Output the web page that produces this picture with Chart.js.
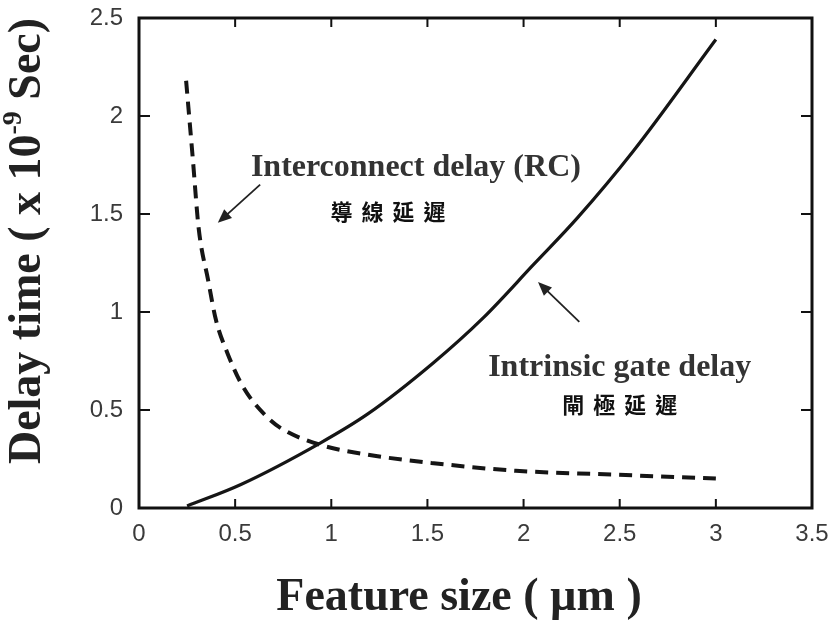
<!DOCTYPE html>
<html>
<head>
<meta charset="utf-8">
<script src="https://cdn.jsdelivr.net/npm/chart.js@4.4.1/dist/chart.umd.min.js"></script>
<style>
  html, body { margin: 0; padding: 0; background: #fff; }
  #wrap { width: 836px; height: 620px; position: relative; }
</style>
</head>
<body>
<div id="wrap"><canvas id="delayChart"></canvas></div>
<script>
// feature size (um) vs delay time (x 1e-9 s)
var gateX = [0.25, 0.53, 0.94, 1.19, 1.53, 1.79, 2.05, 2.28, 2.57, 3.0];
var gateY = [0.01, 0.12, 0.33, 0.48, 0.74, 0.97, 1.24, 1.48, 1.82, 2.39];

var wireX = [0.245, 0.28, 0.31, 0.36, 0.40, 0.46, 0.54, 0.67, 0.75, 0.95, 1.17, 1.52, 1.96, 2.48, 3.0];
var wireY = [2.18, 1.78, 1.43, 1.16, 0.96, 0.79, 0.62, 0.46, 0.40, 0.32, 0.275, 0.23, 0.19, 0.17, 0.15];

var xTickLabels = ['0', '0.5', '1', '1.5', '2', '2.5', '3', '3.5'];
var yTickLabels = ['0', '0.5', '1', '1.5', '2', '2.5'];

function toPoints(xs, ys) {
	var pts = [];
	for (var i = 0; i < xs.length; i++) {
		pts.push({ x: xs[i], y: ys[i] });
	}
	return pts;
}

// frame, inward ticks, axis titles and the notes on the plot
var decorPlugin = {
	id: 'decor',
	afterDraw: function(chart) {
		var ctx = chart.ctx;
		var a = chart.chartArea;
		var xs = chart.scales.x;
		var ys = chart.scales.y;
		ctx.save();

		// frame
		ctx.strokeStyle = '#111';
		ctx.lineWidth = 3;
		ctx.strokeRect(a.left, a.top, a.right - a.left, a.bottom - a.top);

		// inward tick marks on all four sides
		ctx.lineWidth = 2;
		ctx.beginPath();
		for (var i = 1; i < xTickLabels.length - 1; i++) {
			var px = xs.getPixelForValue(i * 0.5);
			ctx.moveTo(px, a.bottom); ctx.lineTo(px, a.bottom - 9);
			ctx.moveTo(px, a.top); ctx.lineTo(px, a.top + 9);
		}
		for (var j = 1; j < yTickLabels.length - 1; j++) {
			var py = ys.getPixelForValue(j * 0.5);
			ctx.moveTo(a.left, py); ctx.lineTo(a.left + 11, py);
			ctx.moveTo(a.right, py); ctx.lineTo(a.right - 11, py);
		}
		ctx.stroke();

		// x axis title
		ctx.fillStyle = '#222';
		ctx.textAlign = 'center';
		ctx.textBaseline = 'middle';
		ctx.font = 'bold 46px "Liberation Serif", serif';
		ctx.fillText('Feature size ( \u00b5m )', 459, 598);

		// y axis title with superscript
		ctx.save();
		ctx.translate(28, 241);
		ctx.rotate(-Math.PI / 2);
		var big = 'bold 46px "Liberation Serif", serif';
		var small = 'bold 28px "Liberation Serif", serif';
		var p1 = 'Delay time ( x 10', p2 = '-9', p3 = ' Sec)';
		ctx.font = big; var w1 = ctx.measureText(p1).width; var w3 = ctx.measureText(p3).width;
		ctx.font = small; var w2 = ctx.measureText(p2).width;
		var sx = -(w1 + w2 + w3) / 2;
		ctx.textAlign = 'left';
		ctx.font = big; ctx.fillText(p1, sx, 0);
		ctx.font = small; ctx.fillText(p2, sx + w1, -14);
		ctx.font = big; ctx.fillText(p3, sx + w1 + w2, 0);
		ctx.restore();

		// notes
		ctx.textAlign = 'center';
		ctx.font = 'bold 32px "Liberation Serif", serif';
		ctx.fillStyle = '#333';
		ctx.fillText('Interconnect delay (RC)', xs.getPixelForValue(1.44), ys.getPixelForValue(1.735));
		ctx.fillText('Intrinsic gate delay', xs.getPixelForValue(2.50), ys.getPixelForValue(0.714));

		ctx.fillStyle = '#111';
		ctx.font = 'bold 22px "Noto Sans CJK TC", sans-serif';
		drawSpaced(ctx, '導線延遲', xs.getPixelForValue(1.295), ys.getPixelForValue(1.51), 31);
		drawSpaced(ctx, '閘極延遲', xs.getPixelForValue(2.50), ys.getPixelForValue(0.525), 31);

		drawArrow(ctx, xs.getPixelForValue(0.63), ys.getPixelForValue(1.65), xs.getPixelForValue(0.41), ys.getPixelForValue(1.455));
		drawArrow(ctx, xs.getPixelForValue(2.29), ys.getPixelForValue(0.95), xs.getPixelForValue(2.075), ys.getPixelForValue(1.153));

		ctx.restore();
	}
};

function drawSpaced(ctx, text, cx, cy, step) {
	var n = text.length;
	var start = cx - (n - 1) * step / 2;
	for (var i = 0; i < n; i++) {
		ctx.fillText(text[i], start + i * step, cy);
	}
}

function drawArrow(ctx, x1, y1, x2, y2) {
	var ang = Math.atan2(y2 - y1, x2 - x1);
	ctx.strokeStyle = '#222';
	ctx.fillStyle = '#222';
	ctx.lineWidth = 1.8;
	ctx.beginPath();
	ctx.moveTo(x1, y1);
	ctx.lineTo(x2 - 10 * Math.cos(ang), y2 - 10 * Math.sin(ang));
	ctx.stroke();
	ctx.beginPath();
	ctx.moveTo(x2, y2);
	ctx.lineTo(x2 - 15 * Math.cos(ang - 0.4), y2 - 15 * Math.sin(ang - 0.4));
	ctx.lineTo(x2 - 15 * Math.cos(ang + 0.4), y2 - 15 * Math.sin(ang + 0.4));
	ctx.closePath();
	ctx.fill();
}

var ctx = document.getElementById('delayChart').getContext('2d');

new Chart(ctx, {
	type: 'scatter',
	data: {
		datasets: [
			{
				label: 'Intrinsic gate delay',
				data: toPoints(gateX, gateY),
				showLine: true,
				borderColor: '#151515',
				borderWidth: 3.2,
				pointRadius: 0,
				cubicInterpolationMode: 'monotone',
				fill: false
			},
			{
				label: 'Interconnect delay (RC)',
				data: toPoints(wireX, wireY),
				showLine: true,
				borderColor: '#151515',
				borderWidth: 4,
				borderDash: [13, 8],
				pointRadius: 0,
				cubicInterpolationMode: 'monotone',
				fill: false
			}
		]
	},
	options: {
		responsive: true,
		maintainAspectRatio: false,
		animation: false,
		layout: { padding: { left: 0, top: 18, right: 24, bottom: 0 } },
		plugins: {
			legend: { display: false },
			tooltip: { enabled: false }
		},
		scales: {
			x: {
				type: 'linear',
				min: 0,
				max: 3.5,
				grid: { display: false },
				border: { display: false },
				ticks: {
					stepSize: 0.5,
					padding: 4,
					color: '#3a3a3a',
					font: { family: '"Liberation Sans", Arial, sans-serif', size: 24 },
					maxRotation: 0,
					callback: function(v) { return xTickLabels[Math.round(v / 0.5)]; }
				},
				afterFit: function(s) { s.height = 112; s.paddingLeft = 0; s.paddingRight = 0; }
			},
			y: {
				type: 'linear',
				min: 0,
				max: 2.5,
				grid: { display: false },
				border: { display: false },
				ticks: {
					stepSize: 0.5,
					padding: 8,
					color: '#3a3a3a',
					font: { family: '"Liberation Sans", Arial, sans-serif', size: 24 },
					callback: function(v) { return yTickLabels[Math.round(v / 0.5)]; }
				},
				afterFit: function(s) { s.width = 139; s.paddingTop = 0; s.paddingBottom = 0; }
			}
		}
	},
	plugins: [decorPlugin]
});
</script>
</body>
</html>
